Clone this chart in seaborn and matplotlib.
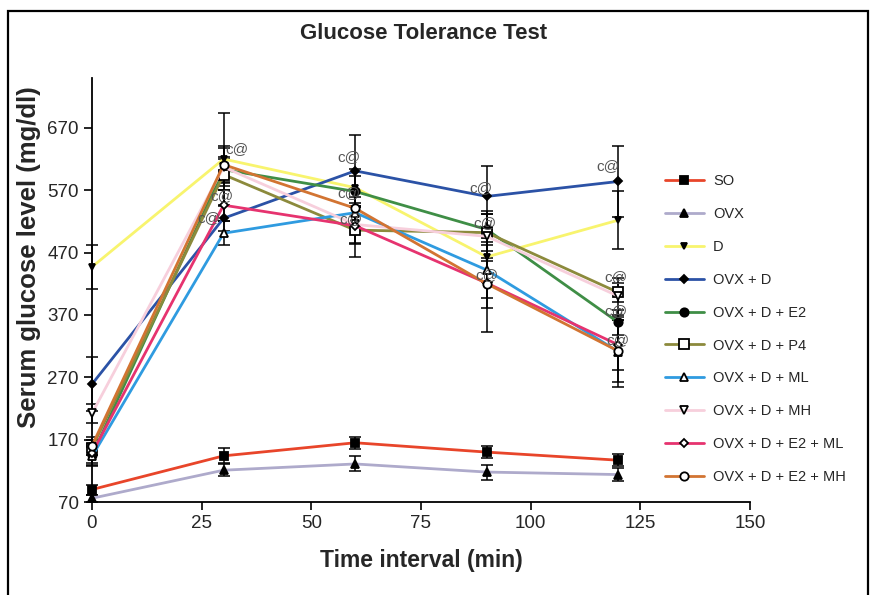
import matplotlib
matplotlib.use("Agg")
import matplotlib.pyplot as plt
import seaborn as sns
import pandas as pd
from matplotlib.patches import Rectangle

# Sampling times (min)
time_min = [0, 30, 60, 90, 120]

# Mean serum glucose (mg/dl) per group
so = [90, 144, 165, 150, 137]
ovx = [76, 121, 131, 118, 114]
d = [447, 620, 574, 463, 522]
ovx_d = [259, 525, 601, 560, 584]
ovx_d_e2 = [145, 603, 568, 507, 358]
ovx_d_p4 = [157, 595, 506, 502, 406]
ovx_d_ml = [143, 501, 534, 442, 311]
ovx_d_mh = [212, 607, 515, 496, 400]
ovx_d_e2_ml = [148, 546, 513, 421, 322]
ovx_d_e2_mh = [160, 611, 541, 420, 312]

# Standard errors
so_err = [8, 12, 10, 10, 10]
ovx_err = [6, 10, 12, 12, 10]
d_err = [35, 74, 30, 40, 46]
ovx_d_err = [43, 20, 58, 49, 57]
ovx_d_e2_err = [15, 20, 25, 25, 20]
ovx_d_p4_err = [12, 25, 43, 30, 15]
ovx_d_ml_err = [15, 19, 25, 45, 56]
ovx_d_mh_err = [15, 30, 30, 40, 30]
ovx_d_e2_ml_err = [15, 25, 30, 40, 40]
ovx_d_e2_mh_err = [15, 30, 30, 77, 50]

group_names = ["SO", "OVX", "D", "OVX + D", "OVX + D + E2", "OVX + D + P4",
               "OVX + D + ML", "OVX + D + MH", "OVX + D + E2 + ML", "OVX + D + E2 + MH"]
group_means = [so, ovx, d, ovx_d, ovx_d_e2, ovx_d_p4, ovx_d_ml, ovx_d_mh,
               ovx_d_e2_ml, ovx_d_e2_mh]
group_errs = [so_err, ovx_err, d_err, ovx_d_err, ovx_d_e2_err, ovx_d_p4_err,
              ovx_d_ml_err, ovx_d_mh_err, ovx_d_e2_ml_err, ovx_d_e2_mh_err]

# Significance marks "c@": (time, glucose)
sig_x = [30.3, 29.7, 29.3, 58.6, 58.6, 59.0, 88.6, 89.5, 90.1, 117.6, 119.4, 119.4, 120.0]
sig_y = [636, 560, 526, 623, 565, 524, 574, 518, 434, 609, 430, 377, 329]
sig_ha = ["left", "center", "right", "center", "center", "center", "center",
          "center", "center", "center", "center", "center", "center"]

line_colors = ["#e8452a", "#aeaacb", "#f8f46e", "#2b52a6", "#3f8e46", "#8c8a3c",
               "#2f9be0", "#f7cfdc", "#e6336f", "#d27432"]
marker_shapes = ["s", "^", "v", "D", "o", "s", "^", "v", "D", "o"]
marker_faces = ["black", "black", "black", "black", "black",
                "white", "white", "white", "white", "white"]
marker_sizes = [6, 5.5, 4.5, 4.5, 6, 6.5, 5.5, 5.5, 4.5, 6]

sns.set_style("ticks")
plt.rcParams["font.family"] = ["Liberation Sans", "DejaVu Sans"]

fig = plt.figure(figsize=(8.72, 5.95), dpi=100)
ax = fig.add_axes([0.1055, 0.1563, 0.7545, 0.7127])

for name, means, errs, col, mk, fc, ms in zip(group_names, group_means, group_errs,
                                               line_colors, marker_shapes,
                                               marker_faces, marker_sizes):
    frame = pd.DataFrame({"time": time_min, "glucose": means})
    ax.errorbar(time_min, means, yerr=errs, fmt="none", ecolor="black",
                elinewidth=1.1, capsize=4.5, capthick=1.1, zorder=2, clip_on=False)
    sns.lineplot(data=frame, x="time", y="glucose", ax=ax, color=col,
                 linewidth=2.0, marker=mk, markersize=ms, markerfacecolor=fc,
                 markeredgecolor="black", markeredgewidth=1.3, label=name,
                 zorder=3, clip_on=False)

for xs, ys, ha in zip(sig_x, sig_y, sig_ha):
    ax.text(xs, ys, "c@", fontsize=11, color="#555555", ha=ha, va="center",
            zorder=4)

ax.set_xlim(0, 150)
ax.set_ylim(70, 750)
ax.set_xticks([0, 25, 50, 75, 100, 125, 150])
ax.set_yticks([70, 170, 270, 370, 470, 570, 670])
ax.tick_params(axis="both", labelsize=13.5, length=6, width=1.2, direction="out",
               color="black")
sns.despine(ax=ax)
for side in ("left", "bottom"):
    ax.spines[side].set_linewidth(1.3)
    ax.spines[side].set_color("black")

ax.set_xlabel("Time interval (min)", fontsize=16.5, fontweight="bold", labelpad=12)
ax.set_ylabel("Serum glucose level (mg/dl)", fontsize=18.5, fontweight="bold")
ax.yaxis.set_label_coords(-0.077, 0.578)
fig.text(0.486, 0.944, "Glucose Tolerance Test", fontsize=16,
         fontweight="bold", ha="center", va="center")

ax.legend(loc="upper left", bbox_to_anchor=(0.754, 0.719),
          bbox_transform=fig.transFigure, frameon=False, fontsize=10.5,
          labelspacing=1.29, handlelength=2.7, handletextpad=0.6,
          borderpad=0.0)

# Outer frame around the figure
fig.patches.append(Rectangle((8 / 872, -0.05), (868 - 8) / 872, 1.05 - 11 / 595,
                             transform=fig.transFigure, fill=False,
                             edgecolor="black", linewidth=1.6))

fig.savefig("out.png", dpi=100)
